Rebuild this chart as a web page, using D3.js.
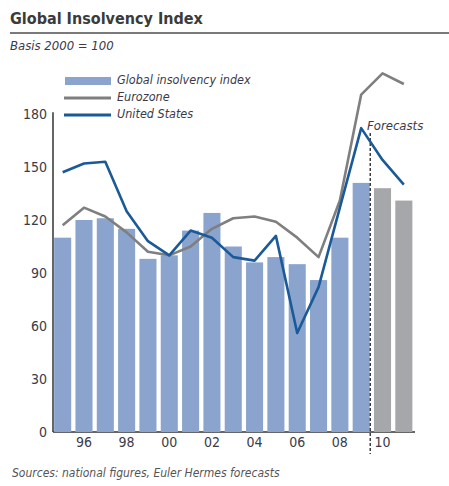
<!DOCTYPE html>
<html>
<head>
<meta charset="utf-8">
<script src="https://cdn.jsdelivr.net/npm/d3@7"></script>
<style>
  body { margin: 0; background: #fff; }
  svg { font-family: "DejaVu Sans Condensed", "Liberation Sans Narrow", sans-serif; font-stretch: condensed; }
</style>
</head>
<body>
<div id="chart"></div>
<script>
// years 1995..2011, last two are forecasts
var years = [1995, 1996, 1997, 1998, 1999, 2000, 2001, 2002, 2003, 2004, 2005, 2006, 2007, 2008, 2009, 2010, 2011]
var globalIndex = [110, 120, 121, 115, 98, 100, 114, 124, 105, 96, 99, 95, 86, 110, 141, 138, 131]
var eurozone = [117, 127, 122, 113, 102, 100, 105, 115, 121, 122, 119, 110, 99, 131, 191, 203, 197]
var unitedStates = [147, 152, 153, 125, 108, 100, 114, 110, 99, 97, 111, 56, 82, 127, 172, 154, 140]
var forecastYears = [2010, 2011]
var yTicks = [0, 30, 60, 90, 120, 150, 180]
var xTickYears = [1996, 1998, 2000, 2002, 2004, 2006, 2008, 2010]

var width = 449, height = 486

var svg = d3.select("#chart").append("svg")
    .attr("width", width)
    .attr("height", height)

var x = d3.scaleBand()
    .domain(years)
    .range([52, 414.5])
    .paddingInner(0.2)
    .paddingOuter(0.1)
var y = d3.scaleLinear()
    .domain([0, 180])
    .range([432, 114])

// title + rule
svg.append("text")
    .attr("x", 10).attr("y", 24)
    .style("font-size", "16px").style("font-weight", "bold")
    .style("fill", "#3b3b3b")
    .text("Global Insolvency Index")
svg.append("line")
    .attr("x1", 10).attr("x2", width)
    .attr("y1", 33).attr("y2", 33)
    .style("stroke", "#7a7a7a").style("stroke-width", 2)
svg.append("text")
    .attr("x", 10).attr("y", 50)
    .style("font-size", "13px").style("font-style", "italic")
    .style("fill", "#3a3a4a")
    .text("Basis 2000 = 100")

// axes
svg.append("line")
    .attr("x1", 53).attr("x2", 53)
    .attr("y1", y(181)).attr("y2", y(0))
    .style("stroke", "#333").style("stroke-width", 1.5)
svg.append("line")
    .attr("x1", 53).attr("x2", 415)
    .attr("y1", y(0)).attr("y2", y(0))
    .style("stroke", "#333").style("stroke-width", 1.5)

svg.append("g")
    .selectAll("text")
    .data(yTicks)
    .join("text")
    .attr("x", 47)
    .attr("y", function (d) { return y(d) })
    .attr("dy", "0.35em")
    .attr("text-anchor", "end")
    .style("font-size", "14px")
    .style("fill", "#3a3a48")
    .text(function (d) { return d })

svg.append("g")
    .selectAll("text")
    .data(xTickYears)
    .join("text")
    .attr("x", function (d) { return x(d) + x.bandwidth() / 2 })
    .attr("y", 447)
    .attr("text-anchor", "middle")
    .style("font-size", "14px")
    .style("fill", "#3a3a48")
    .text(function (d) { return String(d).slice(2) })

// bars
svg.append("g")
    .selectAll("rect")
    .data(years)
    .join("rect")
    .attr("x", function (d) { return x(d) })
    .attr("width", x.bandwidth())
    .attr("y", function (d, i) { return y(globalIndex[i]) })
    .attr("height", function (d, i) { return y(0) - y(globalIndex[i]) })
    .style("fill", function (d) { return forecastYears.indexOf(d) >= 0 ? "#a6a7aa" : "#8aa4cd" })

// forecast divider
var divX = x(2009) + x.bandwidth() + 0.5
svg.append("line")
    .attr("x1", divX).attr("x2", divX)
    .attr("y1", 133).attr("y2", 454)
    .style("stroke", "#222").style("stroke-width", 1.3)
    .style("stroke-dasharray", "3,2")
svg.append("text")
    .attr("x", 367).attr("y", 130)
    .style("font-size", "13px").style("font-style", "italic")
    .style("fill", "#3a3a4a")
    .text("Forecasts")

// lines
var line = d3.line()
    .x(function (d, i) { return x(years[i]) + x.bandwidth() / 2 })
    .y(function (d) { return y(d) })

svg.append("path")
    .datum(eurozone)
    .attr("d", line)
    .style("fill", "none").style("stroke", "#7f7f7f")
    .style("stroke-width", 2.6).style("stroke-linejoin", "round")
svg.append("path")
    .datum(unitedStates)
    .attr("d", line)
    .style("fill", "none").style("stroke", "#1b5a98")
    .style("stroke-width", 2.6).style("stroke-linejoin", "round")

// legend
var legend = svg.append("g")
legend.append("rect")
    .attr("x", 65).attr("y", 77).attr("width", 46).attr("height", 8)
    .style("fill", "#8aa4cd")
legend.append("line")
    .attr("x1", 64).attr("x2", 111).attr("y1", 98).attr("y2", 98)
    .style("stroke", "#7f7f7f").style("stroke-width", 3)
legend.append("line")
    .attr("x1", 64).attr("x2", 111).attr("y1", 115).attr("y2", 115)
    .style("stroke", "#1b5a98").style("stroke-width", 3)
var legendLabels = ["Global insolvency index", "Eurozone", "United States"]
legend.selectAll("text")
    .data(legendLabels)
    .join("text")
    .attr("x", 117)
    .attr("y", function (d, i) { return [80, 97, 114][i] })
    .attr("dy", "0.35em")
    .style("font-size", "12.5px").style("font-style", "italic")
    .style("fill", "#3a3a4a")
    .text(function (d) { return d })

// source
svg.append("text")
    .attr("x", 12).attr("y", 477)
    .style("font-size", "12px").style("font-style", "italic")
    .style("fill", "#555")
    .text("Sources: national figures, Euler Hermes forecasts")
</script>
</body>
</html>
